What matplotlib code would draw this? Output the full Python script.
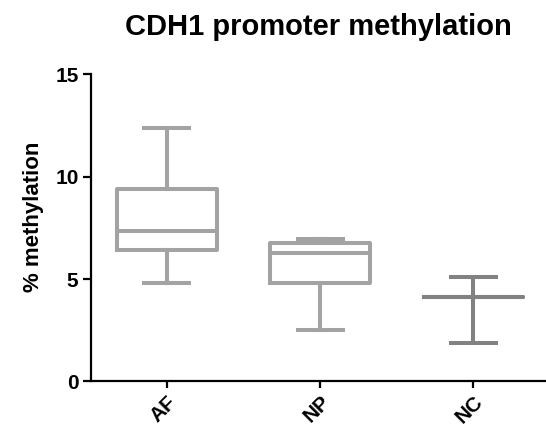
import matplotlib
matplotlib.use("Agg")
import matplotlib.pyplot as plt

# Box statistics (% methylation)
groups = ["AF", "NP", "NC"]
whisker_low = [4.82, 2.52, 1.89]
q1 = [6.41, 4.82, 4.10]
median = [7.33, 6.28, 4.10]
q3 = [9.38, 6.77, 4.10]
whisker_high = [12.39, 6.94, 5.08]
box_colors = ["#a3a3a3", "#a3a3a3", "#828282"]

plt.rcParams["font.family"] = ["Liberation Sans", "DejaVu Sans"]
plt.rcParams["font.weight"] = "bold"

fig = plt.figure(figsize=(5.46, 4.28), dpi=100)
ax = fig.add_axes([0.1667, 0.109, 0.8333, 0.7173])

positions = [1, 2, 3]
for i, g in enumerate(groups):
    stats = [dict(label=g, whislo=whisker_low[i], q1=q1[i], med=median[i],
                  q3=q3[i], whishi=whisker_high[i], fliers=[])]
    c = box_colors[i]
    lw = 2.9
    ax.bxp(stats, positions=[positions[i]], widths=0.65, capwidths=0.32,
           showfliers=False, manage_ticks=False,
           boxprops=dict(color=c, linewidth=lw),
           medianprops=dict(color=c, linewidth=lw, solid_capstyle="butt"),
           whiskerprops=dict(color=c, linewidth=lw),
           capprops=dict(color=c, linewidth=lw, solid_capstyle="butt"))

ax.set_xlim(0.506, 3.474)
ax.set_ylim(0, 15)
ax.set_yticks([0, 5, 10, 15])
ax.set_xticks(positions)
ax.set_xticklabels(groups, rotation=45, ha="right", rotation_mode="anchor",
                   fontsize=15, fontweight="bold")
ax.tick_params(axis="y", labelsize=15, width=1.6, length=6, pad=3, direction="out")
ax.tick_params(axis="x", width=1.6, length=5, pad=3, direction="out")
for lab in ax.get_yticklabels():
    lab.set_fontweight("bold")

ax.spines["top"].set_visible(False)
ax.spines["right"].set_visible(False)
ax.spines["left"].set_linewidth(1.6)
ax.spines["bottom"].set_linewidth(1.6)

ax.set_ylabel("% methylation", fontsize=16, fontweight="bold")
ax.yaxis.set_label_coords(-0.103, 0.537)
ax.set_title("CDH1 promoter methylation", fontsize=21, fontweight="bold", pad=28)

fig.savefig("out.png", dpi=100)
